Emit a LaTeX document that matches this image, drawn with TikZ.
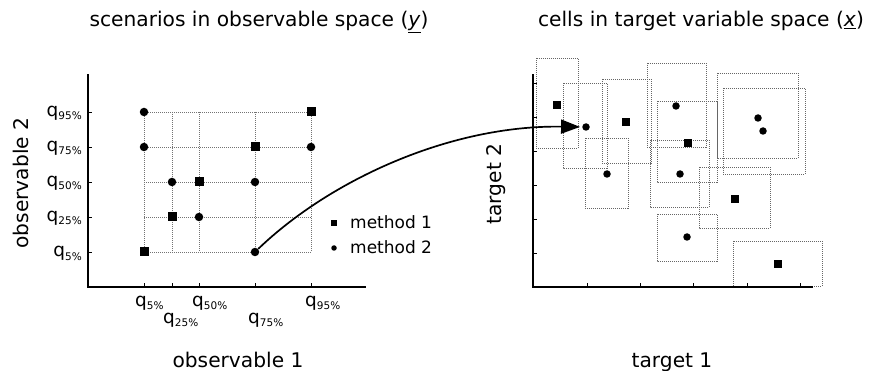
\documentclass[tikz,border=0pt]{standalone}
\usepackage{fontspec}
\setmainfont{DejaVu Sans}
\usetikzlibrary{arrows.meta}
\newcommand{\qlab}[1]{{\fontsize{18.5}{18}\selectfont q}\raisebox{-3pt}{\fontsize{10.5}{10}\selectfont #1\%}}
\newcommand{\bigtxt}{\fontsize{20.2}{24}\selectfont}
\begin{document}
\begin{tikzpicture}[x=1pt,y=-1pt,
  axis/.style={line width=1.6pt,line cap=rect},
  tick/.style={line width=0.8pt},
  grid/.style={line width=0.8pt,gray!90!black,dash pattern=on 1pt off 1pt},
  cell/.style={line width=0.8pt,gray!80!black,dash pattern=on 1pt off 1pt},
  sq/.style={rectangle,fill=black,draw=none,inner sep=0pt,minimum size=9pt},
  ci/.style={circle,fill=black,draw=none,inner sep=0pt,minimum size=8.5pt},
  sqs/.style={rectangle,fill=black,draw=none,inner sep=0pt,minimum size=7.5pt},
  cis/.style={circle,fill=black,draw=none,inner sep=0pt,minimum size=7.5pt},
  lab/.style={inner sep=0pt},
]
\useasboundingbox (0,0) rectangle (872,371);

% titles
\node[lab,anchor=base] (t1) at (259,27) {\bigtxt scenarios in observable space (\underline{\textit{y}})};
\node[lab,anchor=base] (t2) at (701,27) {\bigtxt cells in target variable space (\underline{\textit{x}})};

% ---------- left plot ----------
% grid
\foreach \r in {112,147,182,217,252} \draw[grid] (144,\r) -- (311,\r);
\foreach \c in {144,172,199,255,311} \draw[grid] (\c,112) -- (\c,252);
% axes
\draw[axis] (88,75) -- (88,287) -- (365,287);
\foreach \r in {112,147,182,217,252} \draw[tick] (88,\r) -- (92,\r);
\foreach \c in {144,172,199,255,311} \draw[tick] (\c,287) -- (\c,283);
% y tick labels
\node[lab,anchor=base east] (y95) at (82,117) {\qlab{95}};
\node[lab,anchor=base east] (y75) at (82,152) {\qlab{75}};
\node[lab,anchor=base east] (y50) at (82,187) {\qlab{50}};
\node[lab,anchor=base east] (y25) at (82,222) {\qlab{25}};
\node[lab,anchor=base east] (y05) at (82,257) {\qlab{5}};
% x tick labels
\node[lab,anchor=base west] (x05) at (135,306) {\qlab{5}};
\node[lab,anchor=base west] (x25) at (163,323) {\qlab{25}};
\node[lab,anchor=base west] (x50) at (192,306) {\qlab{50}};
\node[lab,anchor=base west] (x75) at (248,323) {\qlab{75}};
\node[lab,anchor=base west] (x95) at (305,306) {\qlab{95}};
% axis labels
\node[lab,anchor=base] (ax1) at (238,367) {\bigtxt observable 1};
\node[lab,anchor=base,rotate=90] (ax2) at (28,183) {\bigtxt observable 2};
% points
\node[ci] (L1) at (144,112) {};
\node[sq] (L2) at (311,112) {};
\node[ci] (L3) at (144,147) {};
\node[sq] (L4) at (255,147) {};
\node[ci] (L5) at (311,147) {};
\node[ci] (L6) at (172,182) {};
\node[sq] (L7) at (199,182) {};
\node[ci] (L8) at (255,182) {};
\node[sq] (L9) at (172,217) {};
\node[ci] (L10) at (199,217) {};
\node[sq] (L11) at (144,252) {};
\node[ci] (L12) at (255,252) {};
% legend
\node[rectangle,fill=black,inner sep=0pt,minimum size=6pt] (lg1) at (334,223) {};
\node[circle,fill=black,inner sep=0pt,minimum size=5.5pt] (lg2) at (334,248) {};
\node[lab,anchor=west] (lt1) at (350,222) {\fontsize{17}{20}\selectfont method 1};
\node[lab,anchor=west] (lt2) at (350,247) {\fontsize{17}{20}\selectfont method 2};

% ---------- right plot ----------
\draw[cell] (536,58) rectangle (578,148);
\draw[cell] (563,83) rectangle (607,168);
\draw[cell] (602,79) rectangle (651,163);
\draw[cell] (585,138) rectangle (628,208);
\draw[cell] (647,63) rectangle (706,147);
\draw[cell] (657,101) rectangle (717,182);
\draw[cell] (650,140) rectangle (709,207);
\draw[cell] (717,73) rectangle (798,158);
\draw[cell] (723,88) rectangle (805,174);
\draw[cell] (699,167) rectangle (770,228);
\draw[cell] (657,214) rectangle (717,261);
\draw[cell] (733,241) rectangle (822,286);
\draw[axis] (533,75) -- (533,287) -- (812,287);
\foreach \r in {83,117,151,185,219,253} \draw[tick] (533,\r) -- (537,\r);
\foreach \c in {587,640,693,747,800} \draw[tick] (\c,287) -- (\c,283);
\node[sqs] (R1) at (557,105) {};
\node[cis] (R2) at (586,127) {};
\node[sqs] (R3) at (626,122) {};
\node[cis] (R4) at (607,174) {};
\node[cis] (R5) at (676,106) {};
\node[sqs] (R6) at (688,143) {};
\node[cis] (R7) at (680,174) {};
\node[cis] (R8) at (758,118) {};
\node[cis] (R9) at (763,131) {};
\node[sqs] (R10) at (735,199) {};
\node[cis] (R11) at (687,237) {};
\node[sqs] (R12) at (778,264) {};
\node[lab,anchor=base] (ax3) at (672,367) {\bigtxt target 1};
\node[lab,anchor=base,rotate=90] (ax4) at (501,184) {\bigtxt target 2};

% mapping arrow
\draw[line width=1.7pt,-{Triangle[length=19pt,width=14pt]},shorten >=2pt]
  (L12) .. controls (330,180) and (450,125) .. (R2);
\end{tikzpicture}
\end{document}
